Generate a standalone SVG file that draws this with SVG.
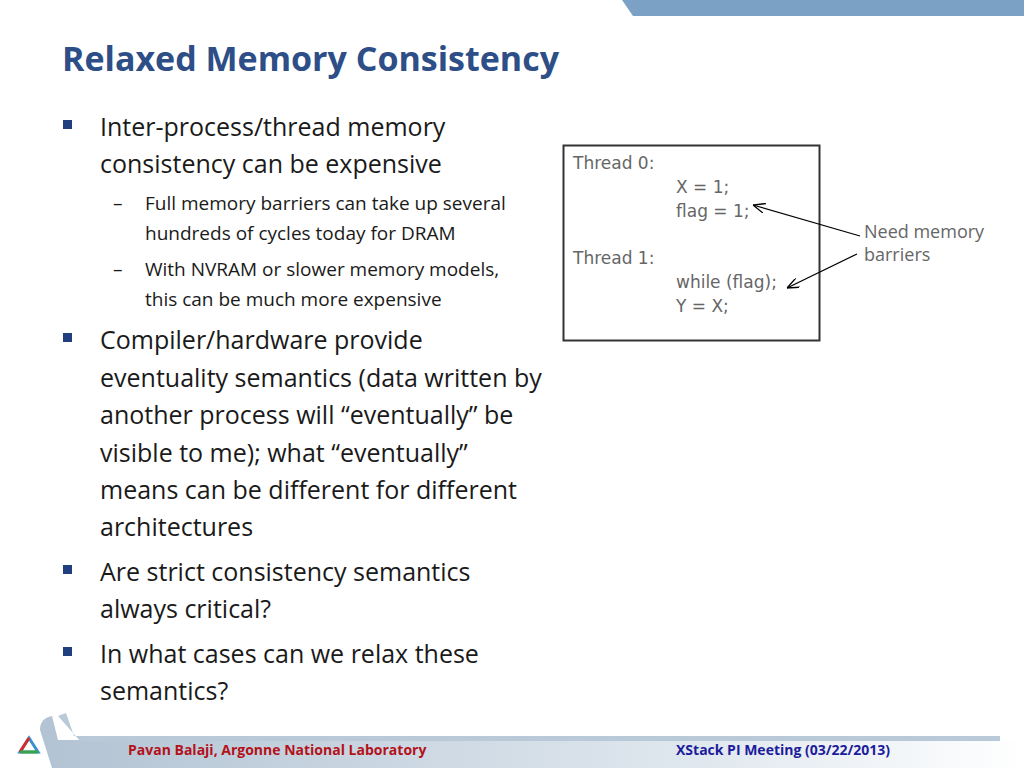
<svg xmlns="http://www.w3.org/2000/svg" width="1024" height="768" viewBox="0 0 1024 768">
<defs>
<style>
.b{font-family:"Open Sans","Noto Sans",sans-serif;font-size:25px;fill:#1a1a1a}
.s{font-family:"Open Sans","Noto Sans",sans-serif;font-size:19px;fill:#1a1a1a}
.c{font-family:"DejaVu Sans","Noto Sans",sans-serif;font-size:17px;fill:#666}
.n{font-family:"Open Sans","Noto Sans",sans-serif;font-size:18px;fill:#666}
.f{font-family:"Open Sans","Noto Sans",sans-serif;font-size:14px;font-weight:bold}
</style>
<marker id="a" markerWidth="12" markerHeight="10" refX="12" refY="5" orient="auto" markerUnits="userSpaceOnUse"><path d="M0,0 L12,5 L0,10" fill="none" stroke="#000" stroke-width="1.3"/></marker>
<linearGradient id="g" x1="0" x2="1"><stop offset="0" stop-color="#9fb4c8"/><stop offset="0.7" stop-color="#dbe4ec"/><stop offset="1" stop-color="#fff"/></linearGradient>
</defs>
<rect width="1024" height="768" fill="#fff"/>
<polygon points="622,0 1024,0 1024,16 633,16" fill="#7ba1c4"/>
<text x="62" y="71" font-family="Open Sans,Noto Sans,sans-serif" font-size="34" font-weight="bold" fill="#2d4e86">Relaxed Memory Consistency</text>
<g id="bullets">
<rect x="63" y="120" width="9" height="9" fill="#1f3f7f"/>
<text class="b" x="100" y="136">Inter-process/thread memory</text>
<text class="b" x="100" y="173">consistency can be expensive</text>
<text class="s" x="113" y="210" fill="#1f3f7f">–</text>
<text class="s" x="145" y="210">Full memory barriers can take up several</text>
<text class="s" x="145" y="240">hundreds of cycles today for DRAM</text>
<text class="s" x="113" y="276">–</text>
<text class="s" x="145" y="276">With NVRAM or slower memory models,</text>
<text class="s" x="145" y="306">this can be much more expensive</text>
<rect x="63" y="333" width="9" height="9" fill="#1f3f7f"/>
<text class="b" x="100" y="349">Compiler/hardware provide</text>
<text class="b" x="100" y="387">eventuality semantics (data written by</text>
<text class="b" x="100" y="424">another process will “eventually” be</text>
<text class="b" x="100" y="462">visible to me); what “eventually”</text>
<text class="b" x="100" y="499">means can be different for different</text>
<text class="b" x="100" y="536">architectures</text>
<rect x="63" y="565" width="9" height="9" fill="#1f3f7f"/>
<text class="b" x="100" y="581">Are strict consistency semantics</text>
<text class="b" x="100" y="618">always critical?</text>
<rect x="63" y="647" width="9" height="9" fill="#1f3f7f"/>
<text class="b" x="100" y="663">In what cases can we relax these</text>
<text class="b" x="100" y="700">semantics?</text>
</g>
<g id="codebox">
<rect x="563.5" y="145.5" width="256" height="195" fill="#fff" stroke="#333" stroke-width="2"/>
<text class="c" x="573" y="169">Thread 0:</text>
<text class="c" x="676" y="193">X = 1;</text>
<text class="c" x="676" y="217">flag = 1;</text>
<text class="c" x="573" y="264">Thread 1:</text>
<text class="c" x="676" y="288">while (flag);</text>
<text class="c" x="676" y="312">Y = X;</text>
</g>
<g id="note">
<text class="n" x="864" y="238">Need memory</text>
<text class="n" x="864" y="261">barriers</text>
</g>
<g id="connectors" stroke="#000" stroke-width="1.3" fill="none">
<line x1="860" y1="236" x2="753" y2="205" marker-end="url(#a)"/>
<line x1="857" y1="254" x2="787" y2="288" marker-end="url(#a)"/>
</g>
<g id="footer">
<path d="M40,730 Q40,718 52,716 L58,740 L1024,740 L1024,768 L52,768 Z" fill="url(#g)" opacity="0.8"/>
<path d="M58,716 L66,713 L74,736 L1000,736 L1000,741 L80,741 Z" fill="#b9c9d8"/>
<polygon points="29,738 20,752 38,752" fill="none" stroke="#3a8fd0" stroke-width="3"/>
<line x1="29" y1="738" x2="20" y2="752" stroke="#d62b2b" stroke-width="3"/>
<line x1="20" y1="752" x2="38" y2="752" stroke="#3aa348" stroke-width="3"/>
<text class="f" x="128" y="755" fill="#b3121b">Pavan Balaji, Argonne National Laboratory</text>
<text class="f" x="676" y="755" fill="#1c1c9c">XStack PI Meeting (03/22/2013)</text>
</g>
</svg>
